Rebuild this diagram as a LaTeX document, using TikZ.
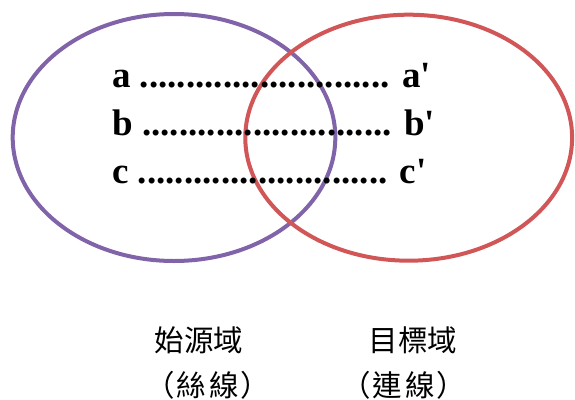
\documentclass[tikz,border=0pt]{standalone}
\usepackage{fontspec}
\newfontfamily\lat{Liberation Serif}
\newfontfamily\cjk{Noto Sans CJK TC}
\definecolor{srcpurple}{RGB}{128,99,168}
\definecolor{tgtred}{RGB}{208,86,88}
\begin{document}
\begin{tikzpicture}[x=1pt,y=-1pt,
  maprow/.style={anchor=base west,inner sep=0pt,font=\lat\bfseries\fontsize{37}{37}\selectfont},
  cjklabel/.style={anchor=base,inner sep=0pt,font=\cjk\fontsize{29.5}{29.5}\selectfont}]
\useasboundingbox (0,0) rectangle (575,399);
\draw[srcpurple,line width=4pt] (174,137.5) ellipse [x radius=161.3pt, y radius=123.5pt];
\draw[tgtred,line width=4pt] (408.7,137.7) ellipse [x radius=163.4pt, y radius=123pt];
\node[maprow] (ra) at (112,87) {a ........................... a'};
\node[maprow] (rb) at (112,135.5) {b ........................... b'};
\node[maprow] (rc) at (112,183.5) {c ........................... c'};
\node[cjklabel] (src) at (199,351) {始源域};
\node[cjklabel] (srcsub) at (208,396) {（\hspace{2pt}絲\hspace{3pt}線\hspace{2pt}）};
\node[cjklabel] (tgt) at (413,351) {目標域};
\node[cjklabel] (tgtsub) at (404,396) {（\hspace{2pt}連\hspace{3pt}線\hspace{2pt}）};
\end{tikzpicture}
\end{document}
